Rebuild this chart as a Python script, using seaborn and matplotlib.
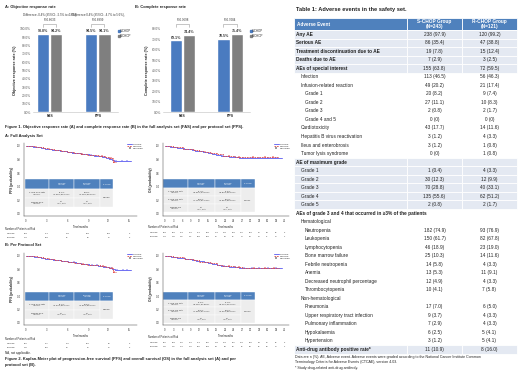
import numpy as np
import pandas as pd
import matplotlib
matplotlib.use("Agg")
import matplotlib.pyplot as plt
import seaborn as sns
from matplotlib.patches import Rectangle
from matplotlib.lines import Line2D
from matplotlib.transforms import blended_transform_factory

# ---------------- data: Figure 1 ----------------
groups = ["S-CHOP", "R-CHOP"]
sets = ["FAS", "PPS"]
orr_s = [93.8, 94.5]
orr_r = [94.2, 94.1]
cr_s = [69.1, 70.5]
cr_r = [74.4, 75.4]
orr_notes = ["Difference:-0.4% (95%CI: -5.5% to 4.8%),\nP=0.8633",
             "Difference:0.4% (95%CI: -4.7% to 5.6%),\nP=0.8999"]
cr_notes = ["P=0.3698", "P=0.7084"]

# ---------------- data: Figure 2 (KM curves) ----------------
pfs_ticks = [0, 3, 6, 9, 12, 15]
os_ticks = [0, 3, 6, 9, 12, 15, 18, 21, 24, 27, 30, 33, 36, 39, 42]

pfs_fas_s_t = [0, 0.5, 1.0, 1.6, 2.1, 2.7, 3.2, 3.8, 4.3, 4.9, 5.5, 6.0, 6.6, 7.2, 7.9, 8.5, 9.1, 9.8, 10.4, 11.0, 11.6, 12.0, 12.4, 12.8, 15.2]
pfs_fas_s_p = [1.0, 0.992, 0.984, 0.975, 0.967, 0.958, 0.950, 0.941, 0.933, 0.925, 0.916, 0.907, 0.899, 0.890, 0.881, 0.872, 0.862, 0.853, 0.844, 0.834, 0.823, 0.811, 0.795, 0.778, 0.778]
pfs_fas_r_t = [0, 0.7, 1.5, 2.4, 3.3, 4.1, 5.0, 5.9, 6.9, 7.8, 8.8, 9.7, 10.6, 11.5, 12.1, 12.6, 13.0]
pfs_fas_r_p = [1.0, 0.992, 0.983, 0.966, 0.949, 0.940, 0.923, 0.906, 0.897, 0.880, 0.871, 0.862, 0.853, 0.841, 0.820, 0.756, 0.756]
pfs_fas_s_cens = [6.8, 9.4, 10.2, 11.3, 12.2, 13.1, 13.9, 14.6]
pfs_fas_r_cens = [8.1, 11.0, 12.3, 12.8]

os_fas_s_t = [0, 0.8, 1.9, 3.0, 4.2, 5.5, 6.8, 8.1, 9.4, 10.7, 12.0, 13.5, 15.0, 16.5, 18.0, 19.5, 21.0, 22.5, 24.0, 26.0, 29.0, 41.0]
os_fas_s_p = [1.0, 0.996, 0.988, 0.979, 0.971, 0.963, 0.955, 0.946, 0.938, 0.929, 0.917, 0.905, 0.892, 0.880, 0.867, 0.854, 0.844, 0.836, 0.831, 0.826, 0.821, 0.821]
os_fas_r_t = [0, 1.2, 2.8, 4.6, 6.4, 8.3, 10.1, 12.0, 14.0, 16.1, 18.2, 20.3, 22.4, 24.5, 27.0, 40.0]
os_fas_r_p = [1.0, 0.992, 0.983, 0.975, 0.958, 0.949, 0.932, 0.918, 0.906, 0.889, 0.872, 0.855, 0.846, 0.837, 0.828, 0.828]
os_fas_s_cens = [20.5, 24.5, 27.5, 30.5, 33.0, 36.0, 39.0]
os_fas_r_cens = [22.5, 26.0, 31.0, 35.0, 38.0]

pfs_pps_s_t = [0, 0.6, 1.1, 1.7, 2.2, 2.8, 3.3, 3.9, 4.4, 5.0, 5.6, 6.1, 6.7, 7.3, 8.0, 8.6, 9.2, 9.9, 10.5, 11.1, 11.7, 12.1, 12.5, 12.9, 15.2]
pfs_pps_s_p = [1.0, 0.992, 0.983, 0.975, 0.966, 0.958, 0.949, 0.941, 0.932, 0.924, 0.916, 0.907, 0.899, 0.890, 0.881, 0.873, 0.864, 0.855, 0.846, 0.836, 0.825, 0.813, 0.797, 0.780, 0.780]
pfs_pps_r_t = [0, 0.8, 1.6, 2.5, 3.4, 4.2, 5.1, 6.0, 7.0, 7.9, 8.9, 9.8, 10.7, 11.6, 12.1, 12.6, 13.0]
pfs_pps_r_p = [1.0, 0.991, 0.983, 0.966, 0.948, 0.939, 0.922, 0.904, 0.895, 0.878, 0.869, 0.860, 0.851, 0.838, 0.818, 0.754, 0.754]
pfs_pps_s_cens = [6.9, 9.5, 10.3, 11.4, 12.3, 13.2, 14.0, 14.7]
pfs_pps_r_cens = [8.2, 11.1, 12.4, 12.8]

os_pps_s_t = [0, 0.9, 2.0, 3.1, 4.3, 5.6, 6.9, 8.2, 9.5, 10.8, 12.0, 13.6, 15.1, 16.6, 18.1, 19.6, 21.1, 22.6, 24.0, 26.1, 29.1, 41.0]
os_pps_s_p = [1.0, 0.996, 0.987, 0.979, 0.970, 0.962, 0.954, 0.945, 0.937, 0.928, 0.918, 0.905, 0.891, 0.878, 0.865, 0.852, 0.842, 0.834, 0.829, 0.824, 0.819, 0.819]
os_pps_r_t = [0, 1.3, 2.9, 4.7, 6.5, 8.4, 10.2, 12.0, 14.1, 16.2, 18.3, 20.4, 22.5, 24.6, 27.1, 40.0]
os_pps_r_p = [1.0, 0.991, 0.983, 0.974, 0.957, 0.948, 0.930, 0.912, 0.903, 0.886, 0.868, 0.851, 0.842, 0.833, 0.824, 0.824]
os_pps_s_cens = [20.6, 24.6, 27.6, 30.6, 33.1, 36.1, 39.1]
os_pps_r_cens = [22.6, 26.1, 31.1, 35.1, 38.1]

pfs_fas_risk_s = [243, 214, 189, 133, 108, 2]
pfs_fas_risk_r = [121, 108, 97, 70, 52, 2]
os_fas_risk_s = [243, 236, 229, 222, 214, 208, 199, 189, 176, 157, 131, 99, 63, 27, 2]
os_fas_risk_r = [121, 118, 115, 111, 108, 104, 99, 94, 87, 78, 64, 48, 31, 12, 1]
pfs_pps_risk_s = [237, 211, 187, 132, 86, 2]
pfs_pps_risk_r = [118, 107, 96, 66, 52, 2]
os_pps_risk_s = [237, 233, 227, 220, 213, 207, 198, 188, 175, 156, 130, 98, 62, 27, 2]
os_pps_risk_r = [118, 115, 113, 110, 107, 103, 98, 93, 86, 77, 63, 47, 30, 12, 1]

fas_cols = ["", "S-CHOP\n(n=243)", "R-CHOP\n(n=121)", "P value"]
pps_cols = ["", "S-CHOP\n(n=237)", "R-CHOP\n(n=118)", "P value"]
pfs_fas_rows = [["1-year PFS rate\n(95%CI)", "81.1%\n(74.02%,86.01%)", "83.2%\n(73.45%,89.62%)"],
                ["Median PFS\n(95%CI)", "NA\n(NA, NA)", "NA\n(NA, NA)"]]
os_fas_rows = [["1-year OS rate\n(95%CI)", "91.7%\n(87.39%,94.56%)", "91.8%\n(84.87%,95.57%)"],
               ["2-year OS rate\n(95%CI)", "83.1%\n(77.71%,87.33%)", "83.7%\n(75.69%,89.29%)"],
               ["Median OS\n(95%CI)", "NA\n(NA, NA)", "NA\n(NA, NA)"]]
pfs_pps_rows = [["1-year PFS rate\n(95%CI)", "81.3%\n(75.57%,86.01%)", "82.8%\n(72.90%,89.27%)"],
                ["Median PFS\n(95%CI)", "NA\n(NA, NA)", "NA\n(NA, NA)"]]
os_pps_rows = [["1-year OS rate\n(95%CI)", "91.8%\n(87.11%,94.82%)", "91.2%\n(84.40%,95.06%)"],
               ["2-year OS rate\n(95%CI)", "82.9%\n(77.25%,87.30%)", "83.3%\n(75.03%,89.06%)"],
               ["Median OS\n(95%CI)", "NA\n(NA, NA)", "NA\n(NA, NA)"]]
pfs_fas_p = "0.8260"
os_fas_p = "0.7241"
pfs_pps_p = "0.9528"
os_pps_p = "0.7243"

# ---------------- data: Table 1 ----------------
ae_labels = ["Any AE", "Serious AE", "Treatment discontinuation due to AE", "Deaths due to AE",
             "AEs of special interest", "Infection", "Infusion-related reaction", "Grade 1", "Grade 2",
             "Grade 3", "Grade 4 and 5", "Cardiotoxicity", "Hepatitis B virus reactivation",
             "Ileus and enterobrosis", "Tumor lysis syndrome", "AE of maximum grade", "Grade 1",
             "Grade 2", "Grade 3", "Grade 4", "Grade 5",
             "AEs of grade 3 and 4 that occurred in \u22653% of the patients", "Hematological",
             "Neutropenia", "Leukopenia", "Lymphocytopenia", "Bone marrow failure",
             "Febrile neutropenia", "Anemia", "Decreased neutrophil percentage", "Thrombocytopenia",
             "Non-hematological", "Pneumonia", "Upper respiratory tract infection",
             "Pulmonary inflammation", "Hypokalaemia", "Hypertension", "Anti-drug antibody positive rate*"]
ae_s_chop = ["238 (97.9)", "86 (35.4)", "19 (7.8)", "7 (2.9)", "155 (63.8)", "113 (46.5)", "49 (20.2)",
             "20 (8.2)", "27 (11.1)", "2 (0.8)", "0 (0)", "43 (17.7)", "3 (1.2)", "3 (1.2)", "0 (0)", "",
             "1 (0.4)", "30 (12.3)", "70 (28.8)", "135 (55.6)", "2 (0.8)", "", "", "182 (74.9)",
             "150 (61.7)", "46 (18.9)", "25 (10.3)", "14 (5.8)", "13 (5.3)", "12 (4.9)", "10 (4.1)", "",
             "17 (7.0)", "9 (3.7)", "7 (2.9)", "6 (2.5)", "3 (1.2)", "11 (10.9)"]
ae_r_chop = ["120 (99.2)", "47 (38.8)", "15 (12.4)", "3 (2.5)", "72 (59.5)", "56 (46.3)", "21 (17.4)",
             "9 (7.4)", "10 (8.3)", "2 (1.7)", "0 (0)", "14 (11.6)", "4 (3.3)", "1 (0.8)", "1 (0.8)", "",
             "4 (3.3)", "12 (9.9)", "40 (33.1)", "62 (51.2)", "2 (1.7)", "", "", "93 (76.9)",
             "82 (67.8)", "23 (19.0)", "14 (11.6)", "4 (3.3)", "11 (9.1)", "4 (3.3)", "7 (5.8)", "",
             "6 (5.0)", "4 (3.3)", "4 (3.3)", "5 (4.1)", "5 (4.1)", "8 (16.0)"]
ae_level = [0, 0, 0, 0, 0, 1, 1, 2, 2, 2, 2, 1, 1, 1, 1, 0, 1, 1, 1, 1, 1, 0, 1,
            2, 2, 2, 2, 2, 2, 2, 2, 1, 2, 2, 2, 2, 2, 0]
ae_shaded = [1, 1, 1, 1, 1, 0, 0, 0, 0, 0, 0, 0, 0, 0, 0, 1, 1, 1, 1, 1, 1, 0, 0,
             0, 0, 0, 0, 0, 0, 0, 0, 0, 0, 0, 0, 0, 0, 1]

# ---------------- style ----------------
sns.set_theme(style="white")
plt.rcParams['font.family'] = ['Liberation Sans', 'DejaVu Sans']
W, H = 520, 375
BLUE = "#4a7bc0"
GRAY = "#7f7f7f"
KM_BLUE = "#6f6ff2"
KM_RED = "#e04848"
HEAD = "#4f81bd"
SHADE = "#e4e9f2"
TXT = "#222222"

fig = plt.figure(figsize=(5.2, 3.75), dpi=100)
canvas = fig.add_axes([0, 0, 1, 1])
canvas.set_xlim(0, W)
canvas.set_ylim(H, 0)
canvas.axis("off")


def px_box(x0, y0, x1, y1):
    return [x0 / W, 1 - y1 / H, (x1 - x0) / W, (y1 - y0) / H]


def txt(x, y, s, size, bold=False, **kw):
    kw.setdefault("ha", "left")
    kw.setdefault("va", "center")
    kw.setdefault("color", TXT)
    canvas.text(x, y, s, fontsize=size, fontweight="bold" if bold else "normal", **kw)


# ---------------- Figure 1: bars ----------------
def bar_panel(box, xlim, s_vals, r_vals, ymax, ylabel, notes):
    ax = fig.add_axes(px_box(*box))
    ax.set_facecolor("none")
    df = pd.DataFrame({"set": sets + sets,
                       "group": [groups[0]] * 2 + [groups[1]] * 2,
                       "rate": s_vals + r_vals})
    sns.barplot(data=df, x="set", y="rate", hue="group", hue_order=groups,
                palette=[BLUE, GRAY], saturation=1, width=0.55, gap=0.08,
                errorbar=None, legend=False, ax=ax)
    for cont, vals in zip(ax.containers, [s_vals, r_vals]):
        ax.bar_label(cont, labels=[f"{v:.1f}%" for v in vals], fontsize=2.6,
                     fontweight="bold", padding=0.5, color="#333333")
    tr = blended_transform_factory(ax.transData, ax.transAxes)
    for i in range(2):
        xs = ax.containers[0][i].get_x() + ax.containers[0][i].get_width() / 2
        xr = ax.containers[1][i].get_x() + ax.containers[1][i].get_width() / 2
        ax.plot([xs, xs, xr, xr], [1.025, 1.06, 1.06, 1.025], color="#9a9a9a",
                lw=0.4, transform=tr, clip_on=False)
        ax.text((xs + xr) / 2, 1.085, notes[i], transform=tr, ha="center", va="bottom",
                fontsize=2.1, color="#333333", linespacing=1.2)
    ax.set_xlim(*xlim)
    ax.set_ylim(0, ymax)
    ticks = np.arange(0, ymax + 1, 10)
    ax.set_yticks(ticks)
    ax.set_yticklabels([f"{t:.1f}%" for t in ticks])
    ax.tick_params(axis="y", labelsize=2.3, length=0, pad=1.5, labelcolor="#595959")
    ax.tick_params(axis="x", labelsize=2.5, length=0, pad=1.5)
    for lab in ax.get_xticklabels():
        lab.set_fontweight("bold")
    ax.set_xlabel("")
    ax.set_ylabel(ylabel, fontsize=2.7, fontweight="bold", labelpad=2)
    sns.despine(ax=ax, left=True)
    ax.spines["bottom"].set_color("#bfbfbf")
    ax.spines["bottom"].set_linewidth(0.4)
    handles = [Line2D([], [], marker="s", ls="", color=c, markersize=1.4) for c in [BLUE, GRAY]]
    ax.legend(handles, groups, loc="upper left", bbox_to_anchor=(1.0, 1.0), frameon=False,
              fontsize=2.1, handlelength=0.5, handletextpad=0.2, labelspacing=0.25,
              borderaxespad=0, borderpad=0)
    return ax


bar_panel((33, 29, 118, 112), (-0.35, 1.42), orr_s, orr_r, 100, "Objective response rate (%)", orr_notes)
bar_panel((163, 29, 250, 112), (-0.41, 1.42), cr_s, cr_r, 80, "Complete response rate (%)", cr_notes)

txt(5, 7, "A: Objective response rate", 2.9, True)
txt(135, 7, "B: Complete response rate", 2.9, True)
txt(5, 127, "Figure 1. Objective response rate (A) and complete response rate (B) in the full "
            "analysis set (FAS) and per protocol set (PPS).", 2.9, True)
txt(5, 136, "A: Full Analysis Set", 2.9, True)
txt(5, 245, "B: Per Protocol Set", 2.9, True)


# ---------------- Figure 2: KM ----------------
def step_at(times, probs, t):
    idx = np.searchsorted(times, t, side="right") - 1
    return np.asarray(probs)[idx]


def km_panel(box, xlim, ticks, curves, censors, ylabel, cols, rows, pval,
             tab_box, risk, risk_y, label_x, leg_x):
    ax = fig.add_axes(px_box(*box))
    ax.set_facecolor("none")
    styles = [dict(color=KM_BLUE, lw=0.7), dict(color=KM_RED, lw=0.6, dashes=(2, 1))]
    for (t, p), cen, st in zip(curves, censors, styles):
        sns.lineplot(x=t, y=p, drawstyle="steps-post", ax=ax, **st)
        ax.plot(cen, step_at(t, p, cen), ls="", marker="+", markersize=1.6,
                mew=0.35, color=st["color"])
    ax.set_xlim(*xlim)
    ax.set_ylim(-0.03, 1.04)
    ax.set_xticks(ticks)
    ax.set_yticks(np.arange(0, 1.01, 0.2))
    ax.set_yticklabels([f"{v:.1f}" for v in np.arange(0, 1.01, 0.2)])
    ax.tick_params(labelsize=1.9, length=1.2, width=0.3, pad=1, colors="#333333")
    ax.set_xlabel("Time/months", fontsize=2.0, labelpad=1.2)
    ax.set_ylabel(ylabel, fontsize=2.3, fontweight="bold", labelpad=2)
    sns.despine(ax=ax)
    for s in ["left", "bottom"]:
        ax.spines[s].set_linewidth(0.35)
        ax.spines[s].set_color("#444444")
    handles = [Line2D([], [], color=KM_BLUE, lw=0.7),
               Line2D([], [], color=KM_RED, lw=0.6, dashes=(2, 1)),
               Line2D([], [], ls="", marker="+", color="#333333", markersize=1.6, mew=0.35)]
    ax.legend(handles, ["S-CHOP", "R-CHOP", "Censored"], loc="upper right",
              bbox_to_anchor=(leg_x, 1.0), frameon=False, fontsize=1.7,
              handlelength=2.2, handletextpad=0.3, labelspacing=0.15,
              borderaxespad=0, borderpad=0, markerfirst=True)

    # in-plot summary table (axes fractions)
    x0, y0, x1, y1 = tab_box
    widths = np.array([0.27, 0.29, 0.29, 0.15])
    edges = x0 + (x1 - x0) * np.concatenate([[0], np.cumsum(widths)])
    nrow = len(rows) + 1
    rh = (y1 - y0) / nrow
    for j in range(4):
        ax.add_patch(Rectangle((edges[j], y1 - rh), edges[j + 1] - edges[j], rh,
                               transform=ax.transAxes, facecolor=HEAD, edgecolor="white", lw=0.3))
        ax.text((edges[j] + edges[j + 1]) / 2, y1 - rh / 2, cols[j], transform=ax.transAxes,
                ha="center", va="center", fontsize=1.6, color="white", linespacing=1.1)
    for i, row in enumerate(rows):
        yb = y1 - rh * (i + 2)
        for j in range(3):
            ax.add_patch(Rectangle((edges[j], yb), edges[j + 1] - edges[j], rh,
                                   transform=ax.transAxes, facecolor="#ededed",
                                   edgecolor="white", lw=0.3))
            ax.text((edges[j] + edges[j + 1]) / 2, yb + rh / 2, row[j], transform=ax.transAxes,
                    ha="center", va="center", fontsize=1.6, color="#333333", linespacing=1.1)
    ax.add_patch(Rectangle((edges[3], y0), edges[4] - edges[3], rh * len(rows),
                           transform=ax.transAxes, facecolor="#ededed", edgecolor="white", lw=0.3))
    ax.text((edges[3] + edges[4]) / 2, y0 + rh * len(rows) / 2, pval, transform=ax.transAxes,
            ha="center", va="center", fontsize=1.7, color="#333333")

    # numbers at risk below the axis
    tr = blended_transform_factory(ax.transData, canvas.transData)
    txt(label_x, risk_y, "Number of Patients at Risk", 1.8)
    for k, (name, vals) in enumerate(zip(groups, risk)):
        yy = risk_y + 5 + 3.6 * k
        txt(label_x + 2, yy, name, 1.6)
        for t, v in zip(ticks, vals):
            ax.text(t, yy, str(v), transform=tr, ha="center", va="center", fontsize=1.6,
                    color="#333333", clip_on=False)
    return ax


km_panel((24, 143, 137, 216), (-0.3, 16.1), pfs_ticks,
         [(pfs_fas_s_t, pfs_fas_s_p), (pfs_fas_r_t, pfs_fas_r_p)],
         [pfs_fas_s_cens, pfs_fas_r_cens], "PFS (probability)", fas_cols, pfs_fas_rows,
         pfs_fas_p, (0.01, 0.12, 0.79, 0.50), [pfs_fas_risk_s, pfs_fas_risk_r], 228.5, 5, 1.06)
km_panel((163, 143, 289, 216), (-0.7, 43.5), os_ticks,
         [(os_fas_s_t, os_fas_s_p), (os_fas_r_t, os_fas_r_p)],
         [os_fas_s_cens, os_fas_r_cens], "OS (probability)", fas_cols, os_fas_rows,
         os_fas_p, (0.0, 0.05, 0.73, 0.50), [os_fas_risk_s, os_fas_risk_r], 227.5, 148, 1.01)
km_panel((24, 253, 137, 325), (-0.3, 16.1), pfs_ticks,
         [(pfs_pps_s_t, pfs_pps_s_p), (pfs_pps_r_t, pfs_pps_r_p)],
         [pfs_pps_s_cens, pfs_pps_r_cens], "PFS (probability)", pps_cols, pfs_pps_rows,
         pfs_pps_p, (0.01, 0.09, 0.79, 0.46), [pfs_pps_risk_s, pfs_pps_risk_r], 338.5, 5, 1.06)
km_panel((163, 253, 289, 325), (-0.7, 43.5), os_ticks,
         [(os_pps_s_t, os_pps_s_p), (os_pps_r_t, os_pps_r_p)],
         [os_pps_s_cens, os_pps_r_cens], "OS (probability)", pps_cols, os_pps_rows,
         os_pps_p, (0.0, 0.03, 0.73, 0.46), [os_pps_risk_s, os_pps_risk_r], 337.5, 148, 1.01)

txt(5, 353, "NA, not applicable.", 2.2)
txt(5, 359, "Figure 2. Kaplan-Meier plot of progression-free survival (PFS) and overall survival (OS) "
            "in the full analysis set (A) and per", 2.9, True)
txt(5, 365, "protocol set (B).", 2.9, True)

# ---------------- Table 1 ----------------
c0, c1, c2, c3 = 294, 407, 462, 517
head_top, head_bot = 18, 30
row_h = 8.52
txt(296, 9, "Table 1: Adverse events in the safety set.", 4.1, True)
for a, b in [(c0, c1), (c1, c2), (c2, c3)]:
    canvas.add_patch(Rectangle((a, head_top), b - a, head_bot - head_top, facecolor=HEAD,
                               edgecolor="white", lw=0.6))
txt(297, 24, "Adverse Event", 3.4, True, color="white")
txt((c1 + c2) / 2, 24, "S-CHOP Group\n(N=243)", 3.4, True, color="white", ha="center", linespacing=1.0)
txt((c2 + c3) / 2, 24, "R-CHOP Group\n(N=121)", 3.4, True, color="white", ha="center", linespacing=1.0)
for i, lab in enumerate(ae_labels):
    y0 = head_bot + i * row_h
    if ae_shaded[i]:
        for a, b in [(c0, c1), (c1, c2), (c2, c3)]:
            canvas.add_patch(Rectangle((a, y0), b - a, row_h, facecolor=SHADE,
                                       edgecolor="white", lw=0.6))
    bold = ae_level[i] == 0
    txt(c0 + 2.5 + 4.2 * ae_level[i], y0 + row_h / 2, lab, 3.4, bold)
    txt((c1 + c2) / 2, y0 + row_h / 2, ae_s_chop[i], 3.4, ha="center")
    txt((c2 + c3) / 2, y0 + row_h / 2, ae_r_chop[i], 3.4, ha="center")

txt(295, 357, "Data are n (%). AE, Adverse event. Adverse events were graded according to the "
              "National Cancer Institute Common", 2.6)
txt(295, 362, "Terminology Criteria for Adverse Events (CTCAE), version 4.03.", 2.6)
txt(295, 367.5, "* Study drug-related anti-drug antibody.", 2.6)

fig.savefig("out.png", dpi=100)
